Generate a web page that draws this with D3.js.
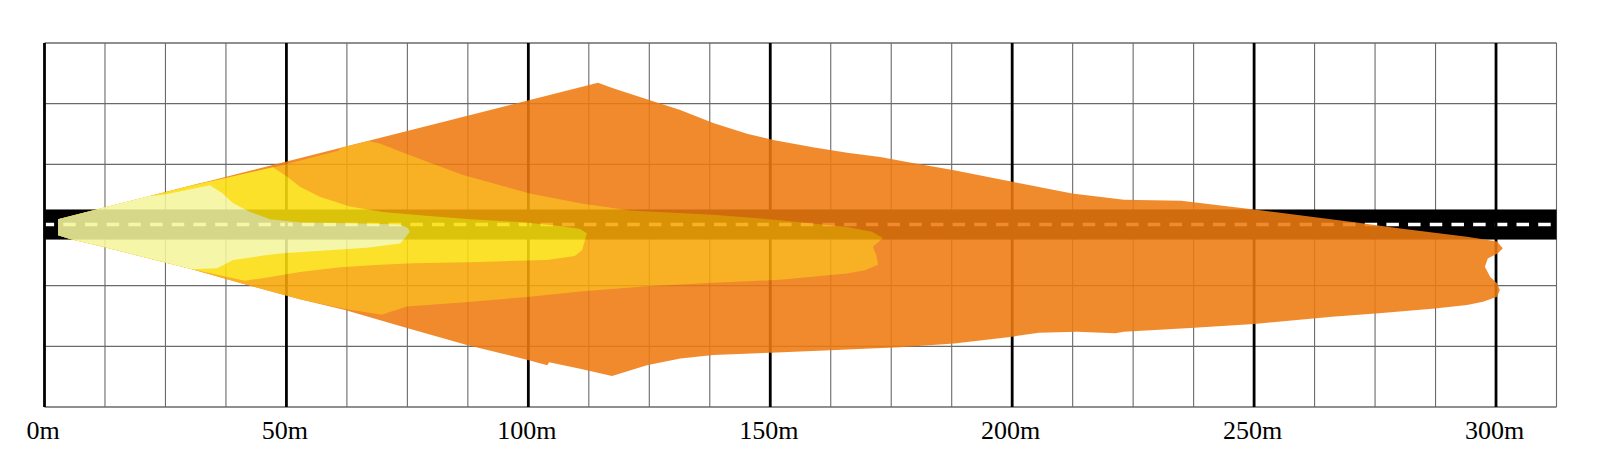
<!DOCTYPE html>
<html><head><meta charset="utf-8">
<script src="https://cdn.jsdelivr.net/npm/d3@7"></script>
<style>html,body{margin:0;padding:0;background:#fff;} svg{display:block;}</style>
</head><body>
<svg id="chart" width="1600" height="476"></svg>
<script>
// ---- data (metres) ----
const distanceTicks = [0, 50, 100, 150, 200, 250, 300];
const tickLabels = ["0m", "50m", "100m", "150m", "200m", "250m", "300m"];
const distanceDomain = [0, 312.5];
const lateralDomain = [-37.5, 37.5];
const gridStep = 12.5;
const roadEdges = [3.2, -3.0];
const roadCentre = 0.1;

// light zones: [distance, lateral] outlines
const zoneOrange = [[2.8,1.2],[114.4,29.3],[117.5,28.2],[124.5,25.9],[131.4,23.7],[138.2,21.0],[145.2,18.8],[150.6,17.5],[158.8,16.0],[165.9,14.9],[172.7,14.0],[178.3,13.0],[188.0,11.3],[200.0,8.9],[212.4,6.5],[223.1,5.2],[234.9,5.0],[250.0,3.2],[255.4,2.5],[271.9,0.4],[280.2,-0.7],[294.0,-2.4],[300.2,-3.4],[301.4,-4.8],[300.4,-5.8],[298.3,-6.9],[297.7,-8.6],[298.8,-10.7],[300.2,-12.0],[300.8,-13.4],[300.2,-14.8],[297.3,-15.8],[294.0,-16.5],[287.4,-17.2],[275.8,-18.2],[266.1,-18.9],[250.0,-20.4],[236.8,-21.2],[223.1,-22.0],[221.3,-22.3],[213.4,-22.0],[205.5,-22.2],[200.0,-23.0],[188.0,-24.4],[176.8,-25.2],[162.4,-25.8],[150.0,-26.3],[138.2,-26.8],[131.4,-27.5],[124.5,-28.9],[117.3,-31.1],[110.7,-29.6],[104.3,-28.3],[103.9,-28.9],[99.9,-27.8],[87.3,-24.7],[74.9,-21.2],[62.1,-17.5],[52.8,-15.3],[41.4,-12.2],[30.5,-9.1],[12.1,-4.5],[5.3,-2.9],[2.8,-2.1]];
const zoneAmber = [[2.8,1.2],[32.1,8.6],[40.4,10.1],[60.7,15.3],[61.3,15.9],[66.9,17.3],[69.3,16.8],[76.2,14.1],[86.5,10.3],[100.3,6.5],[110.7,4.5],[121.0,3.0],[138.2,2.1],[152.0,1.0],[165.9,-0.4],[171.0,-1.4],[173.3,-2.7],[171.2,-4.5],[171.9,-6.2],[172.3,-8.2],[169.6,-9.3],[165.9,-10.0],[152.0,-11.3],[138.2,-11.9],[124.5,-12.6],[110.7,-13.7],[100.3,-14.8],[86.9,-15.9],[74.9,-16.8],[71.4,-17.9],[69.8,-18.5],[62.1,-17.3],[52.8,-15.3],[41.4,-12.2],[30.5,-9.1],[12.1,-4.5],[5.3,-2.9],[2.8,-2.1]];
const zoneYellow = [[2.8,1.2],[29.5,7.9],[47.2,11.9],[50.1,10.0],[52.8,7.9],[56.9,5.8],[63.1,3.8],[70.0,2.7],[77.6,2.0],[87.9,1.2],[98.3,0.6],[106.5,-0.2],[110.7,-0.8],[112.1,-1.7],[111.7,-3.1],[111.1,-5.2],[109.6,-6.4],[103.9,-7.2],[90.0,-7.6],[76.2,-7.9],[69.3,-8.2],[61.1,-8.7],[52.8,-9.7],[46.6,-10.7],[41.4,-11.5],[30.5,-9.1],[12.1,-4.5],[5.3,-2.9],[2.8,-2.1]];
const zonePale = [[2.8,1.2],[21.4,5.9],[24.9,6.3],[34.2,8.2],[36.7,6.6],[39.0,4.5],[42.5,2.7],[46.6,1.2],[52.8,0.5],[65.2,0.3],[73.5,0.1],[75.1,-0.6],[75.5,-1.4],[74.5,-2.7],[73.5,-3.8],[66.7,-4.7],[49.3,-5.8],[46.0,-6.2],[39.0,-7.2],[35.7,-8.9],[30.5,-9.1],[12.1,-4.5],[5.3,-2.9],[2.8,-2.1]];
const zoneColours = ["#ee7b10", "#f8a607", "#fbde0d", "#f5f59d"];

// ---- drawing ----
const svg = d3.select("#chart");
const x = d3.scaleLinear().domain(distanceDomain).range([44.5, 1556.5]);
const y = d3.scaleLinear().domain(lateralDomain).range([407, 43]);

svg.append("rect").attr("width", 1600).attr("height", 476).attr("fill", "#fff");

const xGrid = d3.range(distanceDomain[0], distanceDomain[1] + 0.001, gridStep);
const yGrid = d3.range(lateralDomain[0], lateralDomain[1] + 0.001, gridStep);

const g = svg.append("g");
// thin horizontal grid
g.selectAll("line.h").data(yGrid).join("line")
  .attr("x1", x(distanceDomain[0])).attr("x2", x(distanceDomain[1]))
  .attr("y1", d => y(d)).attr("y2", d => y(d))
  .attr("stroke", "#6a6a6a").attr("stroke-width", 1.3);
// thin vertical grid
g.selectAll("line.v").data(xGrid.filter(d => d % 50 !== 0)).join("line")
  .attr("x1", d => x(d)).attr("x2", d => x(d))
  .attr("y1", y(lateralDomain[1])).attr("y2", y(lateralDomain[0]))
  .attr("stroke", "#6a6a6a").attr("stroke-width", 1.1);

// road
g.append("rect")
  .attr("x", x(distanceDomain[0])).attr("width", x(distanceDomain[1]) - x(distanceDomain[0]))
  .attr("y", y(roadEdges[0])).attr("height", y(roadEdges[1]) - y(roadEdges[0]))
  .attr("fill", "#000");
g.append("line")
  .attr("x1", x(distanceDomain[0])).attr("x2", x(distanceDomain[1]))
  .attr("y1", y(roadCentre)).attr("y2", y(roadCentre))
  .attr("stroke", "#fff").attr("stroke-width", 3.6)
  .attr("stroke-dasharray", "12.5 9.19").attr("stroke-dashoffset", 2.9);

// thick 50 m lines
g.selectAll("line.major").data(distanceTicks).join("line")
  .attr("x1", d => x(d)).attr("x2", d => x(d))
  .attr("y1", y(lateralDomain[1])).attr("y2", y(lateralDomain[0]))
  .attr("stroke", "#000").attr("stroke-width", 2.8);

// light zones
const line = d3.line().x(d => x(d[0])).y(d => y(d[1])).curve(d3.curveLinear);
const zones = [zoneOrange, zoneAmber, zoneYellow, zonePale];
const zg = svg.append("g").attr("opacity", 0.88);
zg.selectAll("path").data(zones).join("path")
  .attr("d", d => line(d) + "Z")
  .attr("fill", (d, i) => zoneColours[i]);

// labels
svg.append("g").selectAll("text").data(distanceTicks).join("text")
  .attr("x", d => x(d) - 1.5).attr("y", 439)
  .attr("text-anchor", "middle")
  .attr("font-family", "'Liberation Serif', 'Times New Roman', serif")
  .attr("font-size", 26).attr("fill", "#000")
  .text((d, i) => tickLabels[i]);
</script>
</body></html>
